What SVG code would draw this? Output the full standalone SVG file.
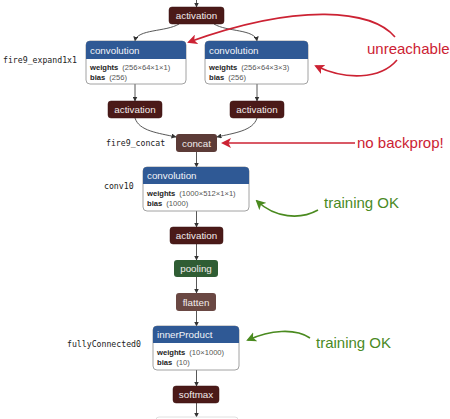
<svg xmlns="http://www.w3.org/2000/svg" width="450" height="419" viewBox="0 0 450 419">
<defs>
<marker id="ah" viewBox="0 0 10 10" refX="9" refY="5" markerWidth="5" markerHeight="5" markerUnits="userSpaceOnUse" orient="auto"><path d="M0,0 L10,5 L0,10 z" fill="#333"/></marker>
<marker id="ahRed" viewBox="0 0 10 10" refX="8" refY="5" markerWidth="10" markerHeight="10" markerUnits="userSpaceOnUse" orient="auto"><path d="M0,0 L10,5 L0,10 L2.5,5 z" fill="#cc2233"/></marker>
<marker id="ahGreen" viewBox="0 0 10 10" refX="8" refY="5" markerWidth="10" markerHeight="10" markerUnits="userSpaceOnUse" orient="auto"><path d="M0,0 L10,5 L0,10 L2.5,5 z" fill="#4a8a1f"/></marker>
</defs>
<style>
.lbl{font-family:"DejaVu Sans Mono","Liberation Mono",monospace;font-size:8.2px;fill:#222}
.nt{font-family:"Liberation Sans",Arial,sans-serif;font-size:9.8px;fill:#f2ecec;text-anchor:middle}
.ht{font-family:"Liberation Sans",Arial,sans-serif;font-size:9.8px;fill:#f2f4f8}
.pt{font-family:"Liberation Sans",Arial,sans-serif;font-size:7.6px;fill:#555}
.pt tspan.b{font-weight:bold;fill:#222}
.act{fill:#4b1a18;stroke:#3a1210;stroke-width:0.5}
.cat{fill:#5c3b37}
.pool{fill:#2f5d34}
.flat{fill:#6a4843}
.body{fill:#fff;stroke:#8a8a8a;stroke-width:0.8}
.hdr{fill:#2f5995}
.con{fill:none;stroke:#444;stroke-width:0.9}
.ann{font-family:"Liberation Sans",Arial,sans-serif;font-size:15px}
.red{fill:#cc2233}
.grn{fill:#4a8a1f}
</style>

<g id="connectors">
<path class="con" d="M196.5,0 V7" marker-end="url(#ah)"/>
<path class="con" d="M179,24 C166,32 137,29 135,41" marker-end="url(#ah)"/>
<path class="con" d="M214,24 C227,32 255,29 257,41" marker-end="url(#ah)"/>
<path class="con" d="M135,84 V101" marker-end="url(#ah)"/>
<path class="con" d="M257,84 V101" marker-end="url(#ah)"/>
<path class="con" d="M135,118 C139,131 158,133 176,137" marker-end="url(#ah)"/>
<path class="con" d="M257,118 C253,131 234,133 217,137" marker-end="url(#ah)"/>
<path class="con" d="M196.5,152 V167" marker-end="url(#ah)"/>
<path class="con" d="M196.5,211 V227" marker-end="url(#ah)"/>
<path class="con" d="M196.5,244 V260" marker-end="url(#ah)"/>
<path class="con" d="M196.5,277 V293" marker-end="url(#ah)"/>
<path class="con" d="M196.5,311 V326" marker-end="url(#ah)"/>
<path class="con" d="M196.5,370 V386" marker-end="url(#ah)"/>
<path class="con" d="M196.5,403 V417" marker-end="url(#ah)"/>
</g>

<g id="act_top">
<rect class="act" x="169" y="7" width="55" height="17" rx="3"/>
<text class="nt" x="196.5" y="19">activation</text>
</g>

<g id="conv_left">
<rect class="body" x="86" y="41" width="100" height="43" rx="4"/>
<path class="hdr" d="M86,59 V45 a4,4 0 0 1 4,-4 H182 a4,4 0 0 1 4,4 V59 z"/>
<text class="ht" x="90" y="54">convolution</text>
<text class="pt" x="90" y="70"><tspan class="b">weights</tspan><tspan dx="4">(256×64×1×1)</tspan></text>
<text class="pt" x="90" y="80"><tspan class="b">bias</tspan><tspan dx="4">(256)</tspan></text>
</g>
<text class="lbl" x="3" y="63">fire9_expand1x1</text>

<g id="conv_right">
<rect class="body" x="205" y="41" width="103" height="43" rx="4"/>
<path class="hdr" d="M205,59 V45 a4,4 0 0 1 4,-4 H304 a4,4 0 0 1 4,4 V59 z"/>
<text class="ht" x="209" y="54">convolution</text>
<text class="pt" x="209" y="70"><tspan class="b">weights</tspan><tspan dx="4">(256×64×3×3)</tspan></text>
<text class="pt" x="209" y="80"><tspan class="b">bias</tspan><tspan dx="4">(256)</tspan></text>
</g>

<g id="act_left">
<rect class="act" x="108" y="101" width="54" height="17" rx="3"/>
<text class="nt" x="135" y="113">activation</text>
</g>

<g id="act_right">
<rect class="act" x="230" y="101" width="54" height="17" rx="3"/>
<text class="nt" x="257" y="113">activation</text>
</g>

<g id="concat">
<rect class="cat" x="176" y="134" width="41" height="18" rx="3"/>
<text class="nt" x="196.5" y="146.5">concat</text>
</g>
<text class="lbl" x="106" y="146">fire9_concat</text>

<g id="conv10">
<rect class="body" x="143" y="167" width="106" height="44" rx="4"/>
<path class="hdr" d="M143,184 V171 a4,4 0 0 1 4,-4 H245 a4,4 0 0 1 4,4 V184 z"/>
<text class="ht" x="147" y="179">convolution</text>
<text class="pt" x="147" y="196"><tspan class="b">weights</tspan><tspan dx="4">(1000×512×1×1)</tspan></text>
<text class="pt" x="147" y="206"><tspan class="b">bias</tspan><tspan dx="4">(1000)</tspan></text>
</g>
<text class="lbl" x="104" y="189">conv10</text>

<g id="act_conv10">
<rect class="act" x="170" y="227" width="53" height="17" rx="3"/>
<text class="nt" x="196.5" y="239">activation</text>
</g>

<g id="pooling">
<rect class="pool" x="174" y="260" width="44" height="17" rx="3"/>
<text class="nt" x="196" y="272">pooling</text>
</g>

<g id="flatten">
<rect class="flat" x="176" y="293" width="40" height="18" rx="3"/>
<text class="nt" x="196" y="305.5">flatten</text>
</g>

<g id="innerProduct">
<rect class="body" x="153" y="326" width="86" height="44" rx="4"/>
<path class="hdr" d="M153,343 V330 a4,4 0 0 1 4,-4 H235 a4,4 0 0 1 4,4 V343 z"/>
<text class="ht" x="157" y="338">innerProduct</text>
<text class="pt" x="157" y="355"><tspan class="b">weights</tspan><tspan dx="4">(10×1000)</tspan></text>
<text class="pt" x="157" y="365"><tspan class="b">bias</tspan><tspan dx="4">(10)</tspan></text>
</g>
<text class="lbl" x="67" y="347">fullyConnected0</text>

<g id="softmax">
<rect class="act" x="173" y="386" width="46" height="17" rx="3"/>
<text class="nt" x="196" y="398">softmax</text>
</g>

<g id="next_node">
<rect x="156" y="417" width="82" height="12" rx="3" fill="#fff" stroke="#d8d8d8" stroke-width="0.8"/>
</g>

<g id="annotations">
<path d="M395,37 C372,10 300,2 189,42" fill="none" stroke="#cc2233" stroke-width="1.6" marker-end="url(#ahRed)"/>
<path d="M397,60 C380,80 345,80 316,66" fill="none" stroke="#cc2233" stroke-width="1.6" marker-end="url(#ahRed)"/>
<text class="ann red" x="367" y="54">unreachable</text>
<path d="M355,143 H223" fill="none" stroke="#cc2233" stroke-width="1.6" marker-end="url(#ahRed)"/>
<text class="ann red" x="357" y="148">no backprop!</text>
<path d="M318,210 C300,220 275,218 257,201" fill="none" stroke="#4a8a1f" stroke-width="1.6" marker-end="url(#ahGreen)"/>
<text class="ann grn" x="324" y="208">training OK</text>
<path d="M310,338 C295,328 270,330 248,340" fill="none" stroke="#4a8a1f" stroke-width="1.6" marker-end="url(#ahGreen)"/>
<text class="ann grn" x="316" y="348">training OK</text>
</g>
</svg>
